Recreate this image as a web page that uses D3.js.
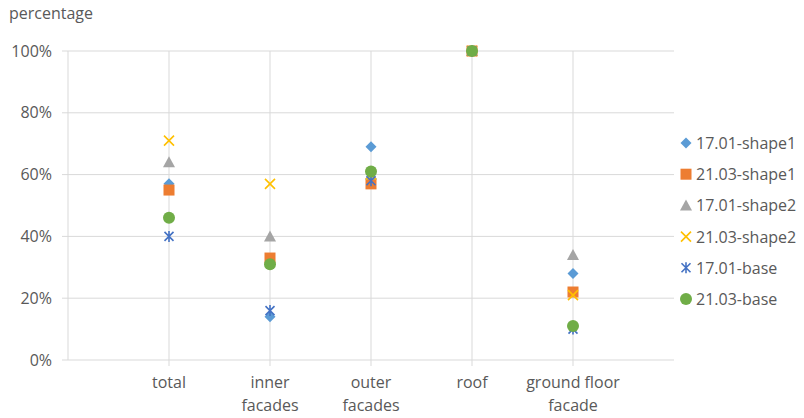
<!DOCTYPE html>
<html><head><meta charset="utf-8">
<script src="https://cdn.jsdelivr.net/npm/d3@7"></script>
<style>body{margin:0;background:#fff}svg{display:block}text{font-family:"Open Sans","Liberation Sans",sans-serif;fill:#595959}</style>
</head><body><svg id="c" width="804" height="418"></svg>
<script>
const categories = ["total", "inner facades", "outer facades", "roof", "ground floor facade"];
const seriesNames = ["17.01-shape1", "21.03-shape1", "17.01-shape2", "21.03-shape2", "17.01-base", "21.03-base"];
const shape1_1701 = [0.57, 0.14, 0.69, 1.00, 0.28];
const shape1_2103 = [0.55, 0.33, 0.57, 1.00, 0.22];
const shape2_1701 = [0.64, 0.40, 0.60, 1.00, 0.34];
const shape2_2103 = [0.71, 0.57, 0.60, 1.00, 0.21];
const base_1701 = [0.40, 0.16, 0.58, 1.00, 0.10];
const base_2103 = [0.46, 0.31, 0.61, 1.00, 0.11];
const yTicks = [0, 0.2, 0.4, 0.6, 0.8, 1.0];

const seriesValues = [shape1_1701, shape1_2103, shape2_1701, shape2_2103, base_1701, base_2103];
const colors = ["#5B9BD5", "#ED7D31", "#A5A5A5", "#FFC000", "#4472C4", "#70AD47"];
const symbols = ["diamond", "square", "triangle", "cross", "star", "circle"];

const svg = d3.select("#c");
const plotLeft = 68, plotRight = 674, plotTop = 51, plotBottom = 360;
const fs = 16;

const x = d3.scalePoint().domain(["", ...categories, " "]).range([plotLeft, plotRight]);
const y = d3.scaleLinear().domain([0, 1]).range([plotBottom, plotTop]);

// horizontal gridlines and left ticks
svg.append("g").selectAll("line").data(yTicks).join("line")
  .attr("x1", plotLeft - 6).attr("x2", plotRight)
  .attr("y1", d => y(d)).attr("y2", d => y(d))
  .attr("stroke", "#D9D9D9").attr("stroke-width", 1);
// y axis line
svg.append("line").attr("x1", plotLeft).attr("x2", plotLeft).attr("y1", plotTop).attr("y2", plotBottom)
  .attr("stroke", "#D9D9D9");
// vertical gridlines at categories
svg.append("g").selectAll("line").data(categories).join("line")
  .attr("x1", d => x(d)).attr("x2", d => x(d)).attr("y1", plotTop).attr("y2", plotBottom + 6)
  .attr("stroke", "#D9D9D9");

// y labels
svg.append("g").selectAll("text").data(yTicks).join("text")
  .attr("x", 52).attr("y", d => y(d) + 5.5).attr("text-anchor", "end")
  .attr("font-size", fs).text(d => d3.format(".0%")(d));

svg.append("text").attr("x", 9).attr("y", 19).attr("font-size", fs).text("percentage");

// category labels (wrapped)
const catLines = { "total": ["total"], "inner facades": ["inner", "facades"], "outer facades": ["outer", "facades"], "roof": ["roof"], "ground floor facade": ["ground floor", "facade"] };
const cg = svg.append("g").selectAll("text").data(categories).join("text")
  .attr("text-anchor", "middle").attr("font-size", fs);
cg.each(function(d) {
  d3.select(this).selectAll("tspan").data(catLines[d]).join("tspan")
    .attr("x", x(d)).attr("y", (t, i) => 388 + i * 23).text(t => t);
});

// marker drawer
function drawMarker(g, sym, color, cx, cy) {
  if (sym === "diamond") {
    g.append("path").attr("d", `M${cx},${cy-5.5}L${cx+5.5},${cy}L${cx},${cy+5.5}L${cx-5.5},${cy}Z`).attr("fill", color);
  } else if (sym === "square") {
    g.append("rect").attr("x", cx-5.5).attr("y", cy-5.5).attr("width", 11).attr("height", 11).attr("fill", color);
  } else if (sym === "triangle") {
    g.append("path").attr("d", `M${cx},${cy-6}L${cx+6},${cy+5}L${cx-6},${cy+5}Z`).attr("fill", color);
  } else if (sym === "cross") {
    g.append("path").attr("d", `M${cx-5},${cy-5}L${cx+5},${cy+5}M${cx+5},${cy-5}L${cx-5},${cy+5}`).attr("stroke", color).attr("stroke-width", 1.6).attr("fill", "none");
  } else if (sym === "star") {
    g.append("path").attr("d", `M${cx-4.5},${cy-4.5}L${cx+4.5},${cy+4.5}M${cx+4.5},${cy-4.5}L${cx-4.5},${cy+4.5}M${cx},${cy-5.5}L${cx},${cy+5.5}`).attr("stroke", color).attr("stroke-width", 1.6).attr("fill", "none");
  } else if (sym === "circle") {
    g.append("circle").attr("cx", cx).attr("cy", cy).attr("r", 6).attr("fill", color);
  }
}

// series markers
seriesValues.forEach((vals, s) => {
  const g = svg.append("g");
  vals.forEach((v, i) => drawMarker(g, symbols[s], colors[s], x(categories[i]), y(v)));
});

// legend
const lg = svg.append("g");
seriesNames.forEach((n, s) => {
  const ly = 143 + s * 31.2;
  drawMarker(lg, symbols[s], colors[s], 686, ly);
  lg.append("text").attr("x", 696).attr("y", ly + 6).attr("font-size", fs).text(n);
});
</script></body></html>
